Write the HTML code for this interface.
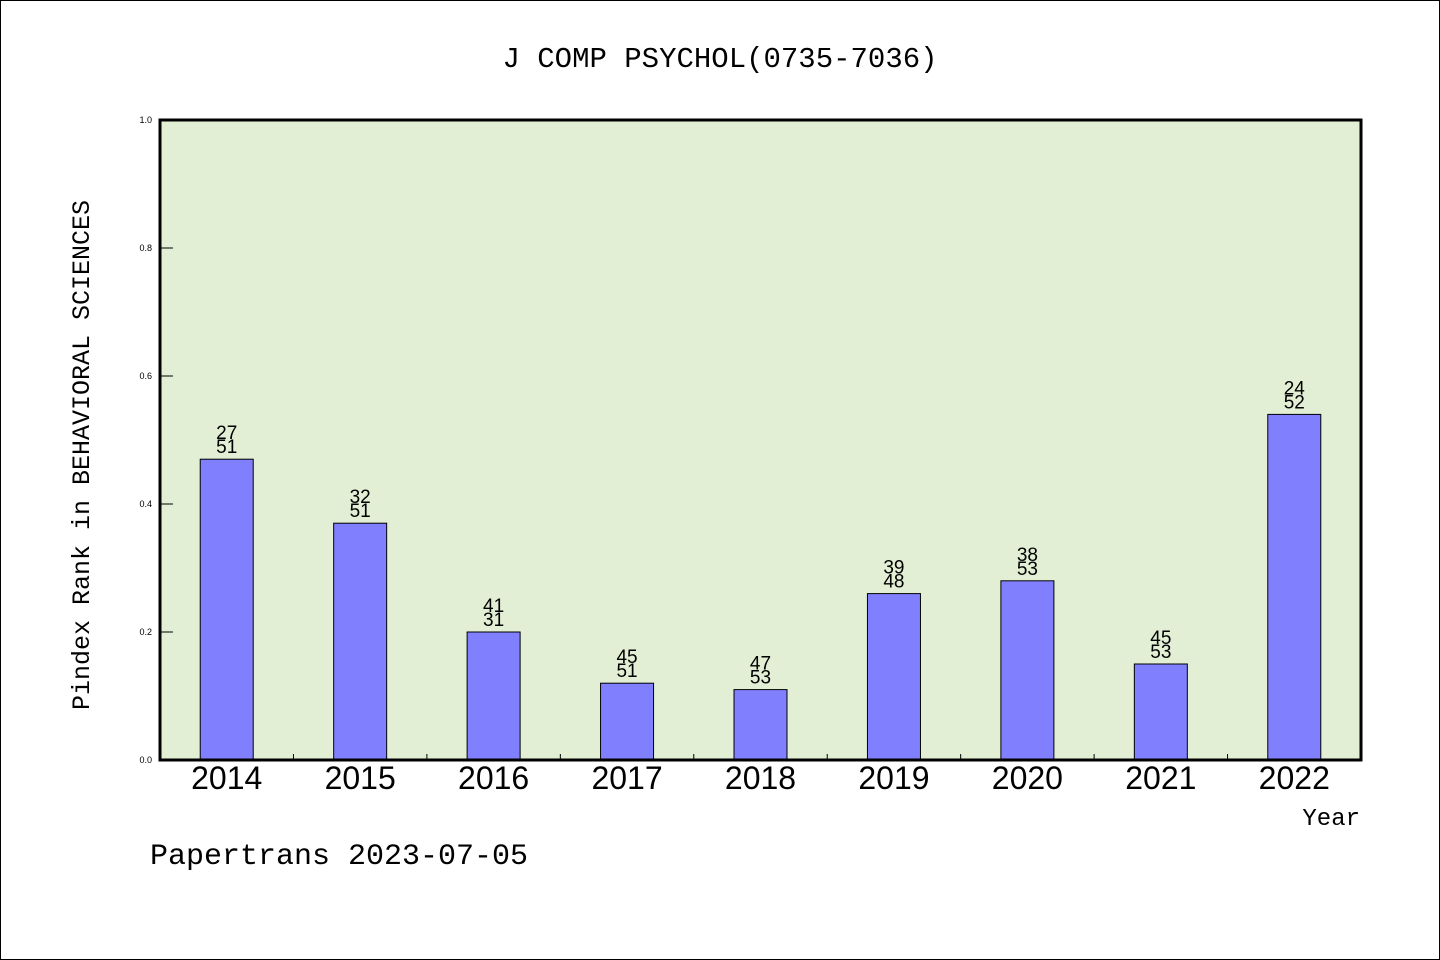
<!DOCTYPE html>
<html><head><meta charset="utf-8"><style>
html,body{margin:0;padding:0;background:#fff}
svg{display:block}
</style></head><body>
<svg id="chart" width="1440" height="960" xmlns="http://www.w3.org/2000/svg">
<rect x="0.5" y="0.5" width="1439" height="959" fill="#fff" stroke="#000"/>
<text x="720" y="67" text-anchor="middle" font-family="Liberation Mono, monospace" font-size="29">J COMP PSYCHOL(0735-7036)</text>
<rect x="160" y="120" width="1201" height="640" fill="#e2efd5"/>
<g id="bars"></g>
<g id="axes"></g>
<rect x="160" y="120" width="1201" height="640" fill="none" stroke="#000" stroke-width="3"/>
<text transform="translate(89,455) rotate(-90)" text-anchor="middle" font-family="Liberation Mono, monospace" font-size="25">Pindex Rank in BEHAVIORAL SCIENCES</text>
<text x="1360" y="825" text-anchor="end" font-family="Liberation Mono, monospace" font-size="24">Year</text>
<text x="150" y="864" font-family="Liberation Mono, monospace" font-size="30">Papertrans 2023-07-05</text>
</svg>
<script>
const categories = ["2014","2015","2016","2017","2018","2019","2020","2021","2022"];
const values = [0.47,0.37,0.20,0.12,0.11,0.26,0.28,0.15,0.54];
const rankLabels = ["27","32","41","45","47","39","38","45","24"];
const totalLabels = ["51","51","31","51","53","48","53","53","52"];
const yTicks = [0,0.2,0.4,0.6,0.8,1.0];
const yTickLabels = ["0.0","0.2","0.4","0.6","0.8","1.0"];

const NS="http://www.w3.org/2000/svg";
const x0=160,x1=1361,y0=760,y1=120;
const band=(x1-x0)/categories.length;
const xc=i=>x0+band*(i+0.5);
const ys=v=>y0-(v)*(y0-y1);
function mk(tag,attrs,parent){const e=document.createElementNS(NS,tag);for(const k in attrs)e.setAttribute(k,attrs[k]);parent.appendChild(e);return e;}
const bars=document.getElementById('bars'), axes=document.getElementById('axes');
const bw=53;
categories.forEach((c,i)=>{
  const top=ys(values[i]);
  const r=mk('rect',{x:xc(i)-bw/2,y:top,width:bw,height:y0-top,fill:'#8080ff',stroke:'#000','stroke-width':1},bars);
  
  
  const t1=mk('text',{x:xc(i),y:top-20,'text-anchor':'middle','font-family':'Liberation Sans, sans-serif','font-size':19},bars);
  t1.textContent=rankLabels[i];
  
  
  const t2=mk('text',{x:xc(i),y:top-6,'text-anchor':'middle','font-family':'Liberation Sans, sans-serif','font-size':19},bars);
  t2.textContent=totalLabels[i];
  
  
  const xl=mk('text',{x:xc(i),y:789,'text-anchor':'middle','font-family':'Liberation Sans, sans-serif','font-size':32},axes);
  xl.textContent=c;
  
  
  if(i>0){
    const tk=mk('line',{x1:x0+band*i,x2:x0+band*i,y1:y0,y2:y0-6,stroke:'#000','stroke-width':1},axes);
    
    
  }
});
yTicks.forEach((v,i)=>{
  const y=ys(v);
  const tk=mk('line',{x1:x0,x2:x0+13,y1:y,y2:y,stroke:'#000','stroke-width':1},axes);
  
  
  const t=mk('text',{x:152,y:y+3,'text-anchor':'end','font-family':'Liberation Sans, sans-serif','font-size':9},axes);
  t.textContent=yTickLabels[i];
  
  
});
</script>
</body></html>
